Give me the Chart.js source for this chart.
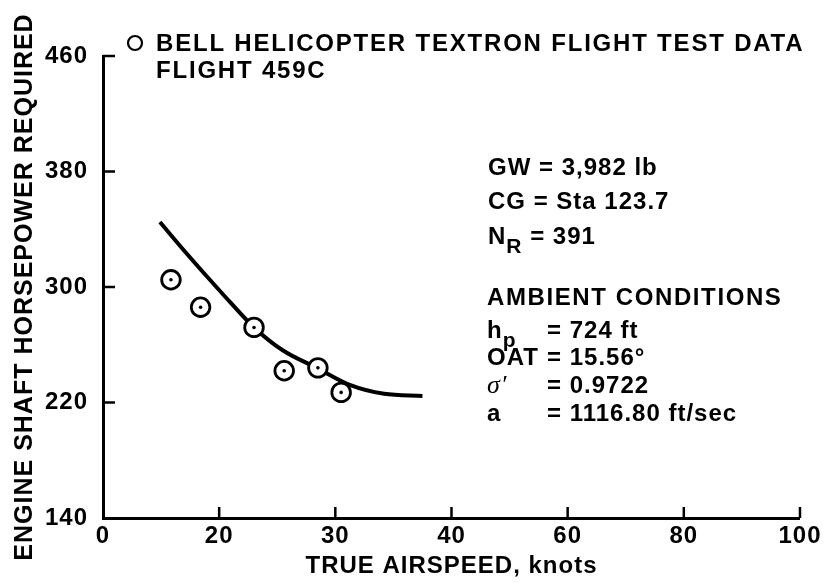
<!DOCTYPE html>
<html>
<head>
<meta charset="utf-8">
<script src="https://cdn.jsdelivr.net/npm/chart.js@4.4.1/dist/chart.umd.min.js"></script>
<style>
  html, body { margin: 0; padding: 0; background: #fff; }
  #wrap { width: 824px; height: 583px; position: relative; }
</style>
</head>
<body>
<div id="wrap"><canvas id="chart"></canvas></div>
<script>
// Axis ticks (the airspeed ticks are evenly spaced along the axis)
const xTickValues = [0, 20, 30, 40, 60, 80, 100];
const yTickValues = [140, 220, 300, 380, 460];

// Flight test points: true airspeed (knots) vs engine shaft horsepower
const testSpeed = [11.7, 16.8, 23.0, 25.6, 28.5, 30.5];
const testPower = [305, 286, 272, 242, 244, 227];

// Faired curve through the data
const fairedSpeed = [9.8, 13.8, 18.4, 21.0, 23.0, 25.5, 28.4, 31.3, 34.2, 37.5];
const fairedPower = [345, 326, 305, 289, 272, 256, 244, 232, 226, 224.5];

// Text
const xTitle = 'TRUE AIRSPEED, knots';
const yTitle = 'ENGINE SHAFT HORSEPOWER REQUIRED';
const legendLines = ['BELL HELICOPTER TEXTRON FLIGHT TEST DATA', 'FLIGHT 459C'];
const aircraftLines = [
  { main: 'GW = 3,982 lb' },
  { main: 'CG = Sta 123.7' },
  { main: 'N', sub: 'R', rest: ' = 391' }
];
const ambientTitle = 'AMBIENT CONDITIONS';
const ambientRows = [
  { sym: 'h', sub: 'p', value: '= 724 ft' },
  { sym: 'OAT', value: '= 15.56°' },
  { sym: 'σ′', value: '= 0.9722', greek: true },
  { sym: 'a', value: '= 1116.80 ft/sec' }
];

const INK = '#000';
const FONT = '"Liberation Sans", Arial, Helvetica, sans-serif';

// Position along the axis measured in tick slots
function speedToSlot(v) {
  const t = xTickValues;
  if (v <= t[0]) return (v - t[0]) / (t[1] - t[0]);
  for (let i = 1; i < t.length; i++) {
    if (v <= t[i]) return i - 1 + (v - t[i - 1]) / (t[i] - t[i - 1]);
  }
  const n = t.length - 1;
  return n + (v - t[n]) / (t[n] - t[n - 1]);
}
function slotToSpeed(s) {
  const t = xTickValues;
  const n = t.length - 1;
  const i = Math.max(0, Math.min(n - 1, Math.floor(s)));
  return t[i] + (s - i) * (t[i + 1] - t[i]);
}

// Linear scale whose ticks sit at equal spacing, interpolating between them
class SlotScale extends Chart.LinearScale {
  static id = 'slots';
  buildTicks() {
    return xTickValues.map(v => ({ value: v }));
  }
  getPixelForValue(value) {
    return this.getPixelForDecimal(speedToSlot(value) / (xTickValues.length - 1));
  }
  getValueForPixel(pixel) {
    return slotToSpeed(this.getDecimalForPixel(pixel) * (xTickValues.length - 1));
  }
}
Chart.register(SlotScale);

const testPoints = testSpeed.map((x, i) => ({ x, y: testPower[i] }));
const fairedPoints = fairedSpeed.map((x, i) => ({ x, y: fairedPower[i] }));

// Tick marks drawn inward from the axes
const innerTicks = {
  id: 'innerTicks',
  beforeDraw(chart) {
    chart.ctx.letterSpacing = '1px';
  },
  afterDraw(chart) {
    const { ctx, chartArea: a, scales: { x, y } } = chart;
    ctx.save();
    ctx.strokeStyle = INK;
    ctx.lineWidth = 2.5;
    ctx.beginPath();
    x.ticks.forEach(t => {
      if (t.value === x.min) return;
      const px = x.getPixelForValue(t.value);
      ctx.moveTo(px, a.bottom);
      ctx.lineTo(px, a.bottom - 11);
    });
    y.ticks.forEach(t => {
      if (t.value === y.min) return;
      const py = y.getPixelForValue(t.value);
      ctx.moveTo(a.left, py);
      ctx.lineTo(a.left + 12, py);
    });
    ctx.stroke();
    ctx.restore();
  }
};

// Legend key and the flight condition notes
const notes = {
  id: 'notes',
  afterDraw(chart) {
    const ctx = chart.ctx;
    ctx.save();
    ctx.fillStyle = INK;
    ctx.strokeStyle = INK;
    ctx.textAlign = 'left';
    ctx.textBaseline = 'alphabetic';

    // legend key
    ctx.lineWidth = 2.2;
    ctx.beginPath();
    ctx.arc(135, 43, 7, 0, Math.PI * 2);
    ctx.stroke();
    ctx.font = 'bold 24px ' + FONT;
    ctx.letterSpacing = '1.8px';
    ctx.fillText(legendLines[0], 156, 51);
    ctx.fillText(legendLines[1], 156, 78);

    // aircraft configuration
    ctx.letterSpacing = '1px';
    const left = 488;
    const rowY = [175, 209, 244];
    aircraftLines.forEach((ln, i) => {
      ctx.font = 'bold 24px ' + FONT;
      ctx.fillText(ln.main, left, rowY[i]);
      if (ln.sub) {
        let xx = left + ctx.measureText(ln.main).width;
        ctx.font = 'bold 21px ' + FONT;
        ctx.fillText(ln.sub, xx, rowY[i] + 9);
        xx += ctx.measureText(ln.sub).width;
        ctx.font = 'bold 24px ' + FONT;
        ctx.fillText(ln.rest, xx, rowY[i]);
      }
    });

    // ambient conditions
    ctx.font = 'bold 24px ' + FONT;
    ctx.letterSpacing = '1.6px';
    ctx.fillText(ambientTitle, 487, 305);
    ctx.letterSpacing = '1px';
    const ambY = [338, 365, 393, 421];
    ambientRows.forEach((r, i) => {
      if (r.greek) {
        ctx.font = 'italic 26px "Liberation Serif", "DejaVu Serif", serif';
        ctx.fillText(r.sym, 487, ambY[i]);
      } else {
        ctx.font = 'bold 24px ' + FONT;
        ctx.fillText(r.sym, 487, ambY[i]);
        if (r.sub) {
          const w = ctx.measureText(r.sym).width;
          ctx.font = 'bold 21px ' + FONT;
          ctx.fillText(r.sub, 487 + w, ambY[i] + 9);
        }
      }
      ctx.font = 'bold 24px ' + FONT;
      ctx.fillText(r.value, 547, ambY[i]);
    });
    ctx.restore();
  }
};

new Chart(document.getElementById('chart'), {
  type: 'scatter',
  data: {
    datasets: [
      {
        label: 'centre dots',
        data: testPoints,
        pointRadius: 1.8,
        pointHoverRadius: 1.8,
        pointBackgroundColor: INK,
        pointBorderWidth: 0
      },
      {
        label: legendLines[0],
        data: testPoints,
        pointStyle: 'circle',
        pointRadius: 9.3,
        pointHoverRadius: 9.3,
        pointBackgroundColor: '#fff',
        pointBorderColor: INK,
        pointBorderWidth: 2.8
      },
      {
        label: 'faired curve',
        data: fairedPoints,
        showLine: true,
        borderColor: INK,
        borderWidth: 4,
        pointRadius: 0,
        cubicInterpolationMode: 'monotone',
        borderCapStyle: 'butt'
      }
    ]
  },
  options: {
    responsive: true,
    maintainAspectRatio: false,
    animation: false,
    layout: { padding: { top: 56, right: 24, bottom: 0, left: 0 } },
    plugins: { legend: { display: false }, tooltip: { enabled: false } },
    scales: {
      x: {
        type: 'slots',
        min: 0,
        max: 100,
        grid: { display: false, drawTicks: false, tickLength: 0 },
        border: { display: true, color: INK, width: 3 },
        ticks: {
          color: INK,
          padding: 4,
          font: { family: FONT, size: 24, weight: 'bold' },
          callback: v => String(v)
        },
        title: {
          display: true,
          text: xTitle,
          color: INK,
          font: { family: FONT, size: 24, weight: 'bold' },
          padding: { top: 0, bottom: 2 }
        },
        afterFit: s => { s.height = 65; }
      },
      y: {
        type: 'linear',
        min: yTickValues[0],
        max: yTickValues[yTickValues.length - 1],
        grid: { display: false, drawTicks: false, tickLength: 0 },
        border: { display: true, color: INK, width: 3 },
        afterBuildTicks: s => { s.ticks = yTickValues.map(v => ({ value: v })); },
        ticks: {
          color: INK,
          padding: 15,
          font: { family: FONT, size: 24, weight: 'bold' },
          callback: v => String(v)
        },
        title: {
          display: true,
          text: yTitle,
          color: INK,
          font: { family: FONT, size: 25, weight: 'bold' },
          padding: { top: 10, bottom: 0 }
        },
        afterFit: s => { s.width = 103; }
      }
    }
  },
  plugins: [innerTicks, notes]
});
</script>
</body>
</html>
